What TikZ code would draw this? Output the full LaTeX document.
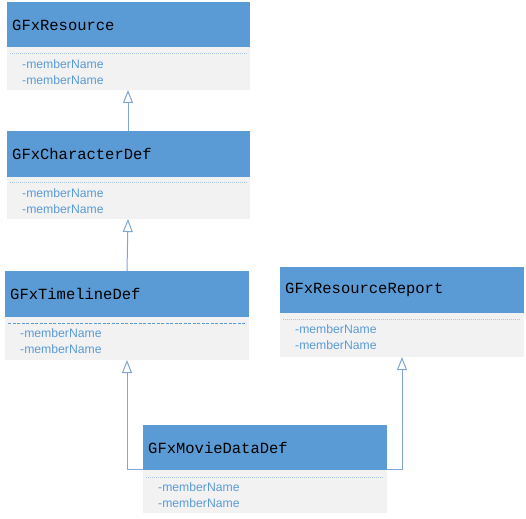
\documentclass[tikz,border=0pt]{standalone}
\usepackage{fontspec}
\setmainfont{Liberation Sans}
\newfontfamily\headfont{Liberation Mono}
\usetikzlibrary{arrows.meta}
\definecolor{hdr}{HTML}{5B9BD5}
\definecolor{bdy}{HTML}{F2F2F2}
\definecolor{lnk}{HTML}{7EA6D8}
\definecolor{sepc}{HTML}{A9C4E4}
\definecolor{sepd}{HTML}{5B9BD5}
\definecolor{mem}{HTML}{5B9BD5}
\tikzset{
  hdrbox/.style={fill=hdr, draw=none},
  bdybox/.style={fill=bdy, draw=none},
  hdrtxt/.style={anchor=west, font=\headfont\fontsize{15.5}{18}\selectfont, text=black, inner sep=0pt},
  memtxt/.style={anchor=west, font=\fontsize{12.2}{14}\selectfont, text=mem, inner sep=0pt},
  sepline/.style={draw=sepc, line width=0.9pt, dash pattern=on 1pt off 1pt},
  sepdash/.style={draw=sepd, line width=0.9pt, dash pattern=on 3pt off 1.5pt},
  inh/.style={draw=lnk, line width=1pt, -{Triangle[open, length=13pt, width=10pt, line width=1pt]}}
}
\begin{document}
\begin{tikzpicture}[x=1pt, y=-1pt]
\useasboundingbox (0,0) rectangle (526,518);
% Box 1
\path[bdybox] (7,47) rectangle (250,90);
\path[hdrbox] (7,2) rectangle (250,47);
\node[hdrtxt] (r1) at (12,25) {GFxResource};
\draw[sepline] (10,53) -- (247,53);
\node[memtxt] (r1a) at (22,64) {-memberName};
\node[memtxt] (r1b) at (22,80) {-memberName};
\coordinate (r1bot) at (128,90);
% Box 2
\path[bdybox] (7,177) rectangle (250,219);
\path[hdrbox] (7,131) rectangle (250,177);
\node[hdrtxt] (r2) at (12,154) {GFxCharacterDef};
\draw[sepline] (10,182) -- (247,182);
\node[memtxt] (r2a) at (22,193) {-memberName};
\node[memtxt] (r2b) at (22,209) {-memberName};
\coordinate (r2top) at (128,131);
\coordinate (r2bot) at (128,219);
% Box 3
\path[bdybox] (5,317) rectangle (249,360);
\path[hdrbox] (5,271) rectangle (249,317);
\node[hdrtxt] (r3) at (10,294) {GFxTimelineDef};
\draw[sepdash] (8,323) -- (246,323);
\node[memtxt] (r3a) at (20,333) {-memberName};
\node[memtxt] (r3b) at (20,349) {-memberName};
\coordinate (r3top) at (127,271);
\coordinate (r3bot) at (127,360);
% Box 4
\path[bdybox] (280,313) rectangle (524,357);
\path[hdrbox] (280,267) rectangle (524,313);
\node[hdrtxt] (r4) at (285,290) {GFxResourceReport};
\draw[sepline] (283,319) -- (521,319);
\node[memtxt] (r4a) at (295,329) {-memberName};
\node[memtxt] (r4b) at (295,345) {-memberName};
\coordinate (r4bot) at (402,357);
% Box 5
\path[bdybox] (143,470) rectangle (387,513);
\path[hdrbox] (143,425) rectangle (387,470);
\node[hdrtxt] (r5) at (148,448) {GFxMovieDataDef};
\draw[sepline] (146,477) -- (384,477);
\node[memtxt] (r5a) at (158,487) {-memberName};
\node[memtxt] (r5b) at (158,503) {-memberName};
\coordinate (r5l) at (143,469);
\coordinate (r5r) at (387,469);
% Connectors
\draw[inh] (r2top) -- (r1bot);
\draw[inh] (r3top) -- (r2bot);
\draw[inh] (r5l) -- (127,469) -- (r3bot);
\draw[inh] (r5r) -- (402,469) -- (r4bot);
\end{tikzpicture}
\end{document}
